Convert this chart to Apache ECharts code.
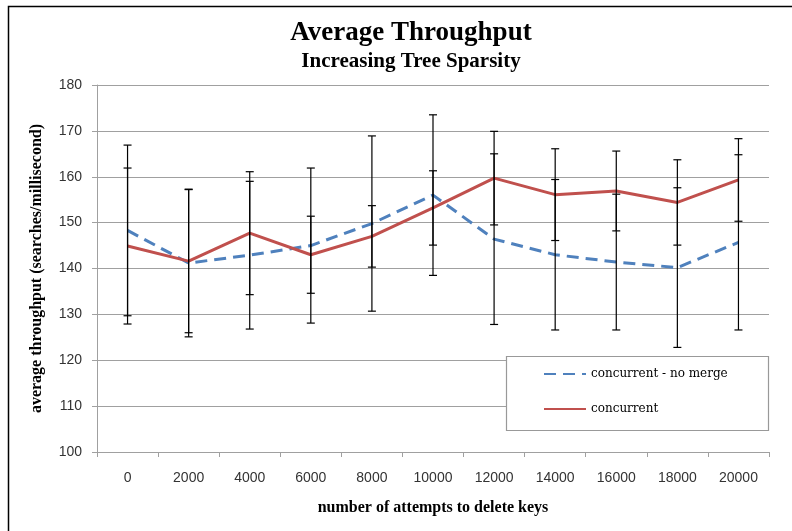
<!DOCTYPE html>
<html>
<head>
<meta charset="utf-8">
<title>Average Throughput</title>
<script src="https://cdn.jsdelivr.net/npm/echarts@6/dist/echarts.min.js"></script>
<style>
  html, body { margin: 0; padding: 0; background: #fff; }
  #chart { width: 792px; height: 531px; }
</style>
</head>
<body>
<div id="chart"></div>
<script>
// Number of delete attempts (x categories)
const attempts = ['0', '2000', '4000', '6000', '8000', '10000', '12000', '14000', '16000', '18000', '20000'];

// Mean throughput (searches/millisecond) per configuration
const noMergeMean = [148.3, 141.2, 142.9, 145.0, 149.8, 156.0, 146.4, 143.0, 141.4, 140.2, 145.7];
const concurrentMean = [144.9, 141.6, 147.7, 143.0, 147.0, 153.2, 159.7, 156.1, 156.9, 154.4, 159.3];

// Error bar half-widths (+/-) per configuration
const noMergeErr = [18.6, 16.1, 16.1, 16.9, 19.1, 17.5, 18.6, 16.4, 14.8, 17.4, 19.1];
const concurrentErr = [17.0, 15.6, 13.4, 8.4, 6.7, 8.1, 10.2, 10.0, 8.7, 9.3, 9.0];

// Y axis range and step
const yMin = 100, yMax = 180, yStep = 10;

function errorRows(mean, err) {
  return mean.map((m, i) => [i, m - err[i], m + err[i]]);
}

function renderErrorBar(params, api) {
  const i = api.value(0);
  const lo = api.coord([i, api.value(1)]);
  const hi = api.coord([i, api.value(2)]);
  const half = 4;
  const style = { stroke: '#000', lineWidth: 1.2 };
  return {
    type: 'group',
    children: [
      { type: 'line', shape: { x1: lo[0], y1: lo[1], x2: hi[0], y2: hi[1] }, style },
      { type: 'line', shape: { x1: lo[0] - half, y1: lo[1], x2: lo[0] + half, y2: lo[1] }, style },
      { type: 'line', shape: { x1: hi[0] - half, y1: hi[1], x2: hi[0] + half, y2: hi[1] }, style }
    ]
  };
}

const serif = 'Liberation Serif';
const sans = 'Liberation Sans';
const axisGray = '#a0a0a0';

const chart = echarts.init(document.getElementById('chart'));
chart.setOption({
  backgroundColor: '#fff',
  animation: false,
  title: {
    text: 'Average Throughput',
    subtext: 'Increasing Tree Sparsity',
    left: 406,
    top: 15,
    textAlign: 'center',
    itemGap: 4,
    textStyle: { fontFamily: serif, fontWeight: 'bold', fontSize: 27, color: '#000' },
    subtextStyle: { fontFamily: serif, fontWeight: 'bold', fontSize: 21, color: '#000' }
  },
  graphic: [
    {
      type: 'rect',
      z: -10,
      silent: true,
      shape: { x: 8.5, y: 6.5, width: 820, height: 600 },
      style: { fill: 'none', stroke: '#000', lineWidth: 1.5 }
    },
    {
      type: 'rect',
      z: 3,
      silent: true,
      shape: { x: 506.5, y: 356.5, width: 262, height: 74 },
      style: { fill: '#fff', stroke: '#999', lineWidth: 1.2 }
    }
  ],
  legend: {
    orient: 'vertical',
    left: 543,
    top: 368,
    padding: 0,
    itemWidth: 42,
    itemHeight: 14,
    itemGap: 23,
    z: 5,
    itemStyle: { opacity: 0 },
    data: ['concurrent - no merge', 'concurrent'],
    textStyle: { fontFamily: 'DejaVu Serif', fontSize: 12, color: '#000' }
  },
  grid: { left: 97, right: 23, top: 85, bottom: 79, containLabel: false },
  xAxis: {
    type: 'category',
    data: attempts,
    boundaryGap: true,
    name: 'number of attempts to delete keys',
    nameLocation: 'middle',
    nameGap: 48,
    nameTextStyle: { fontFamily: serif, fontWeight: 'bold', fontSize: 16, color: '#000' },
    axisLine: { lineStyle: { color: axisGray, width: 1 } },
    axisTick: { show: true, length: 5, lineStyle: { color: axisGray } },
    axisLabel: { margin: 19, fontFamily: sans, fontSize: 14, color: '#333' },
    splitLine: { show: false }
  },
  yAxis: {
    type: 'value',
    min: yMin,
    max: yMax,
    interval: yStep,
    name: 'average throughput (searches/millisecond)',
    nameLocation: 'middle',
    nameRotate: 90,
    nameGap: 52,
    nameTextStyle: { fontFamily: serif, fontWeight: 'bold', fontSize: 16, color: '#000' },
    axisLine: { show: true, lineStyle: { color: axisGray, width: 1 } },
    axisTick: { show: true, length: 5, lineStyle: { color: axisGray } },
    axisLabel: { margin: 15, fontFamily: sans, fontSize: 14, color: '#333' },
    splitLine: { show: true, lineStyle: { color: axisGray, width: 1 } }
  },
  series: [
    {
      name: 'concurrent - no merge',
      type: 'line',
      data: noMergeMean,
      symbol: 'none',
      z: 2,
      color: '#4F81BD',
      lineStyle: { color: '#4F81BD', width: 3, type: [12, 7] }
    },
    {
      name: 'concurrent',
      type: 'line',
      data: concurrentMean,
      symbol: 'none',
      z: 2,
      color: '#C0504D',
      lineStyle: { color: '#C0504D', width: 3 }
    },
    {
      name: 'no merge error',
      type: 'custom',
      renderItem: renderErrorBar,
      data: errorRows(noMergeMean, noMergeErr),
      encode: { x: 0, y: [1, 2] },
      z: 3,
      silent: true
    },
    {
      name: 'concurrent error',
      type: 'custom',
      renderItem: renderErrorBar,
      data: errorRows(concurrentMean, concurrentErr),
      encode: { x: 0, y: [1, 2] },
      z: 3,
      silent: true
    }
  ]
});
</script>
</body>
</html>
